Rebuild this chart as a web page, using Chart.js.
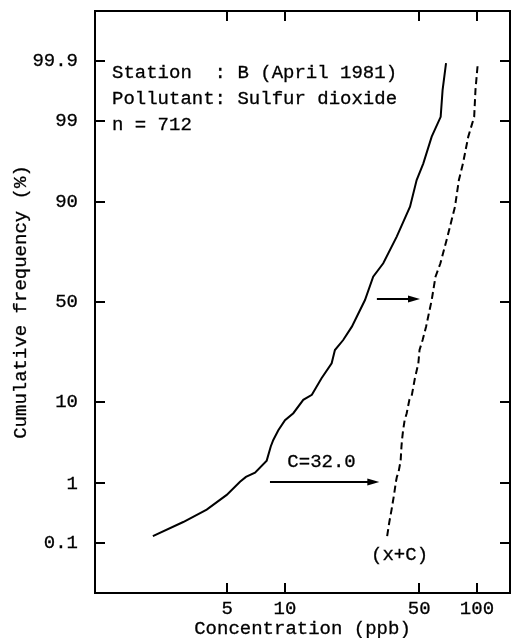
<!DOCTYPE html>
<html>
<head>
<meta charset="utf-8">
<script src="https://cdn.jsdelivr.net/npm/chart.js@4.4.1/dist/chart.umd.min.js"></script>
<style>
  html, body { margin: 0; padding: 0; background: #fff; }
  #c { display: block; }
</style>
</head>
<body>
<canvas id="c" width="512" height="638"></canvas>
<script>
// SO2 concentrations (ppb) at station B, April 1981, with cumulative frequency (%)
const concentration = [2.05, 2.95, 3.91, 4.97, 5.83, 6.26, 6.98, 8.03, 8.43, 8.69, 9.23, 10.0,
  11.05, 12.45, 13.8, 15.5, 17.5, 18.2, 20.1, 22.3, 26.1, 28.8, 32.5, 38.2, 44.8, 48.5,
  52.5, 58.1, 64.7, 66.2, 69.0];
const cumulativePct = [0.135, 0.24, 0.39, 0.67, 1.06, 1.25, 1.43, 2.1, 3.2, 3.85, 5.0, 6.5,
  7.7, 10.5, 11.7, 16.4, 21.6, 26.9, 31.3, 37.6, 51.0, 62.7, 69.0, 79.9, 88.9, 94.1,
  96.2, 98.3, 99.12, 99.67, 99.89];
// constant added to every concentration for the shifted (x+C) curve
const shiftC = 32.0;
const xTickValues = [5, 10, 50, 100];
const yTickPercents = [0.1, 1, 10, 50, 90, 99, 99.9];
const infoLines = ['Station  : B (April 1981)', 'Pollutant: Sulfur dioxide', 'n = 712'];

const FONT = '"Liberation Mono", "Courier New", monospace';
const FSIZE = 19;
const INK = 0.3;

// inverse of the standard normal CDF (Acklam), used for the probability axis
function probit(p) {
  const a = [-3.969683028665376e+01, 2.209460984245205e+02, -2.759285104469687e+02,
    1.383577518672690e+02, -3.066479806614716e+01, 2.506628277459239e+00];
  const b = [-5.447609879822406e+01, 1.615858368580409e+02, -1.556989798598866e+02,
    6.680131188771972e+01, -1.328068155288572e+01];
  const c = [-7.784894002430293e-03, -3.223964580411365e-01, -2.400758277161838e+00,
    -2.549671324505035e+00, 4.374664141464968e+00, 2.938163982698783e+00];
  const d = [7.784695709041462e-03, 3.224671290700398e-01, 2.445134137142996e+00,
    3.754408661907416e+00];
  const pl = 0.02425;
  let q, r;
  if (p < pl) {
    q = Math.sqrt(-2 * Math.log(p));
    return (((((c[0]*q+c[1])*q+c[2])*q+c[3])*q+c[4])*q+c[5]) / ((((d[0]*q+d[1])*q+d[2])*q+d[3])*q+1);
  } else if (p <= 1 - pl) {
    q = p - 0.5; r = q * q;
    return (((((a[0]*r+a[1])*r+a[2])*r+a[3])*r+a[4])*r+a[5])*q / (((((b[0]*r+b[1])*r+b[2])*r+b[3])*r+b[4])*r+1);
  }
  q = Math.sqrt(-2 * Math.log(1 - p));
  return -(((((c[0]*q+c[1])*q+c[2])*q+c[3])*q+c[4])*q+c[5]) / ((((d[0]*q+d[1])*q+d[2])*q+d[3])*q+1);
}
const z = pct => probit(pct / 100);

const observed = concentration.map((v, i) => ({ x: v, y: z(cumulativePct[i]) }));
const shifted = concentration.map((v, i) => ({ x: v + shiftC, y: z(cumulativePct[i]) }));
const yTickZ = yTickPercents.map(z);

function arrow(ctx, x1, x2, y) {
  const head = 12;
  ctx.beginPath();
  ctx.moveTo(x1, y);
  ctx.lineTo(x2 - head + 1, y);
  ctx.stroke();
  ctx.beginPath();
  ctx.moveTo(x2, y);
  ctx.lineTo(x2 - head, y - 3.5);
  ctx.lineTo(x2 - head, y + 3.5);
  ctx.closePath();
  ctx.fill();
}

function inkText(ctx, s, x, y) {
  ctx.fillText(s, x, y);
  ctx.strokeText(s, x, y);
}

// frame with inward ticks on all four sides, axis titles and the in-plot annotations
const framePlugin = {
  id: 'frame',
  afterDraw(chart) {
    const { ctx, chartArea: a, scales } = chart;
    const xs = scales.x, ys = scales.y;
    ctx.save();
    ctx.strokeStyle = '#000';
    ctx.fillStyle = '#000';
    ctx.lineWidth = 2;
    ctx.strokeRect(a.left, a.top, a.right - a.left, a.bottom - a.top);
    const t = 10;
    ctx.beginPath();
    xTickValues.forEach(v => {
      const px = Math.round(xs.getPixelForValue(v));
      ctx.moveTo(px, a.bottom); ctx.lineTo(px, a.bottom - t);
      ctx.moveTo(px, a.top); ctx.lineTo(px, a.top + t);
    });
    yTickZ.forEach(v => {
      const py = Math.round(ys.getPixelForValue(v));
      ctx.moveTo(a.left, py); ctx.lineTo(a.left + t, py);
      ctx.moveTo(a.right, py); ctx.lineTo(a.right - t, py);
    });
    ctx.stroke();

    ctx.font = FSIZE + 'px ' + FONT;
    ctx.lineWidth = INK;
    ctx.textBaseline = 'middle';

    // axis titles
    ctx.textAlign = 'center';
    inkText(ctx, 'Concentration (ppb)', (a.left + a.right) / 2, chart.height - 9);
    ctx.save();
    ctx.translate(21, (a.top + a.bottom) / 2);
    ctx.rotate(-Math.PI / 2);
    inkText(ctx, 'Cumulative frequency (%)', 0, 0);
    ctx.restore();

    // station / pollutant block
    ctx.textAlign = 'left';
    infoLines.forEach((s, i) => inkText(ctx, s, a.left + 17, a.top + 62 + i * 26));

    ctx.textAlign = 'center';
    inkText(ctx, 'C=' + shiftC.toFixed(1), xs.getPixelForValue(15.5), ys.getPixelForValue(z(2.0)));
    inkText(ctx, '(x+C)', xs.getPixelForValue(39.5), ys.getPixelForValue(z(0.058)));

    // shift arrows
    ctx.lineWidth = 2;
    arrow(ctx, xs.getPixelForValue(30.1), xs.getPixelForValue(50.5), ys.getPixelForValue(z(51.5)));
    arrow(ctx, xs.getPixelForValue(8.35), xs.getPixelForValue(31.0), ys.getPixelForValue(z(1.05)));
    ctx.restore();
  }
};

Chart.defaults.font.family = FONT;
Chart.defaults.color = '#000';

new Chart(document.getElementById('c'), {
  type: 'scatter',
  data: {
    datasets: [
      { data: observed, showLine: true, borderColor: '#000', borderWidth: 2, pointRadius: 0, tension: 0 },
      { data: shifted, showLine: true, borderColor: '#000', borderWidth: 2, borderDash: [7, 4], pointRadius: 0, tension: 0 }
    ]
  },
  options: {
    responsive: false,
    animation: false,
    devicePixelRatio: 1,
    layout: { padding: { top: 11, right: 2, left: 0, bottom: 0 } },
    plugins: { legend: { display: false }, tooltip: { enabled: false } },
    scales: {
      x: {
        type: 'logarithmic',
        min: 1.024,
        max: 148.6,
        grid: { display: false, drawTicks: false },
        border: { display: false },
        afterBuildTicks: s => { s.ticks = xTickValues.map(v => ({ value: v })); },
        afterFit: s => { s.height = 45; s.paddingLeft = 0; s.paddingRight = 0; },
        ticks: {
          font: { size: FSIZE, family: FONT },
          padding: 5,
          maxRotation: 0,
          autoSkip: false,
          textStrokeColor: '#000',
          textStrokeWidth: INK,
          callback: v => String(v)
        },
        title: { display: false }
      },
      y: {
        type: 'linear',
        min: -3.73,
        max: 3.73,
        grid: { display: false, drawTicks: false },
        border: { display: false },
        afterBuildTicks: s => { s.ticks = yTickZ.map(v => ({ value: v })); },
        afterFit: s => { s.width = 95; s.paddingTop = 0; s.paddingBottom = 0; },
        ticks: {
          font: { size: FSIZE, family: FONT },
          padding: 17,
          autoSkip: false,
          textStrokeColor: '#000',
          textStrokeWidth: INK,
          callback: (v, i) => String(yTickPercents[i])
        },
        title: { display: false }
      }
    }
  },
  plugins: [framePlugin]
});
</script>
</body>
</html>
